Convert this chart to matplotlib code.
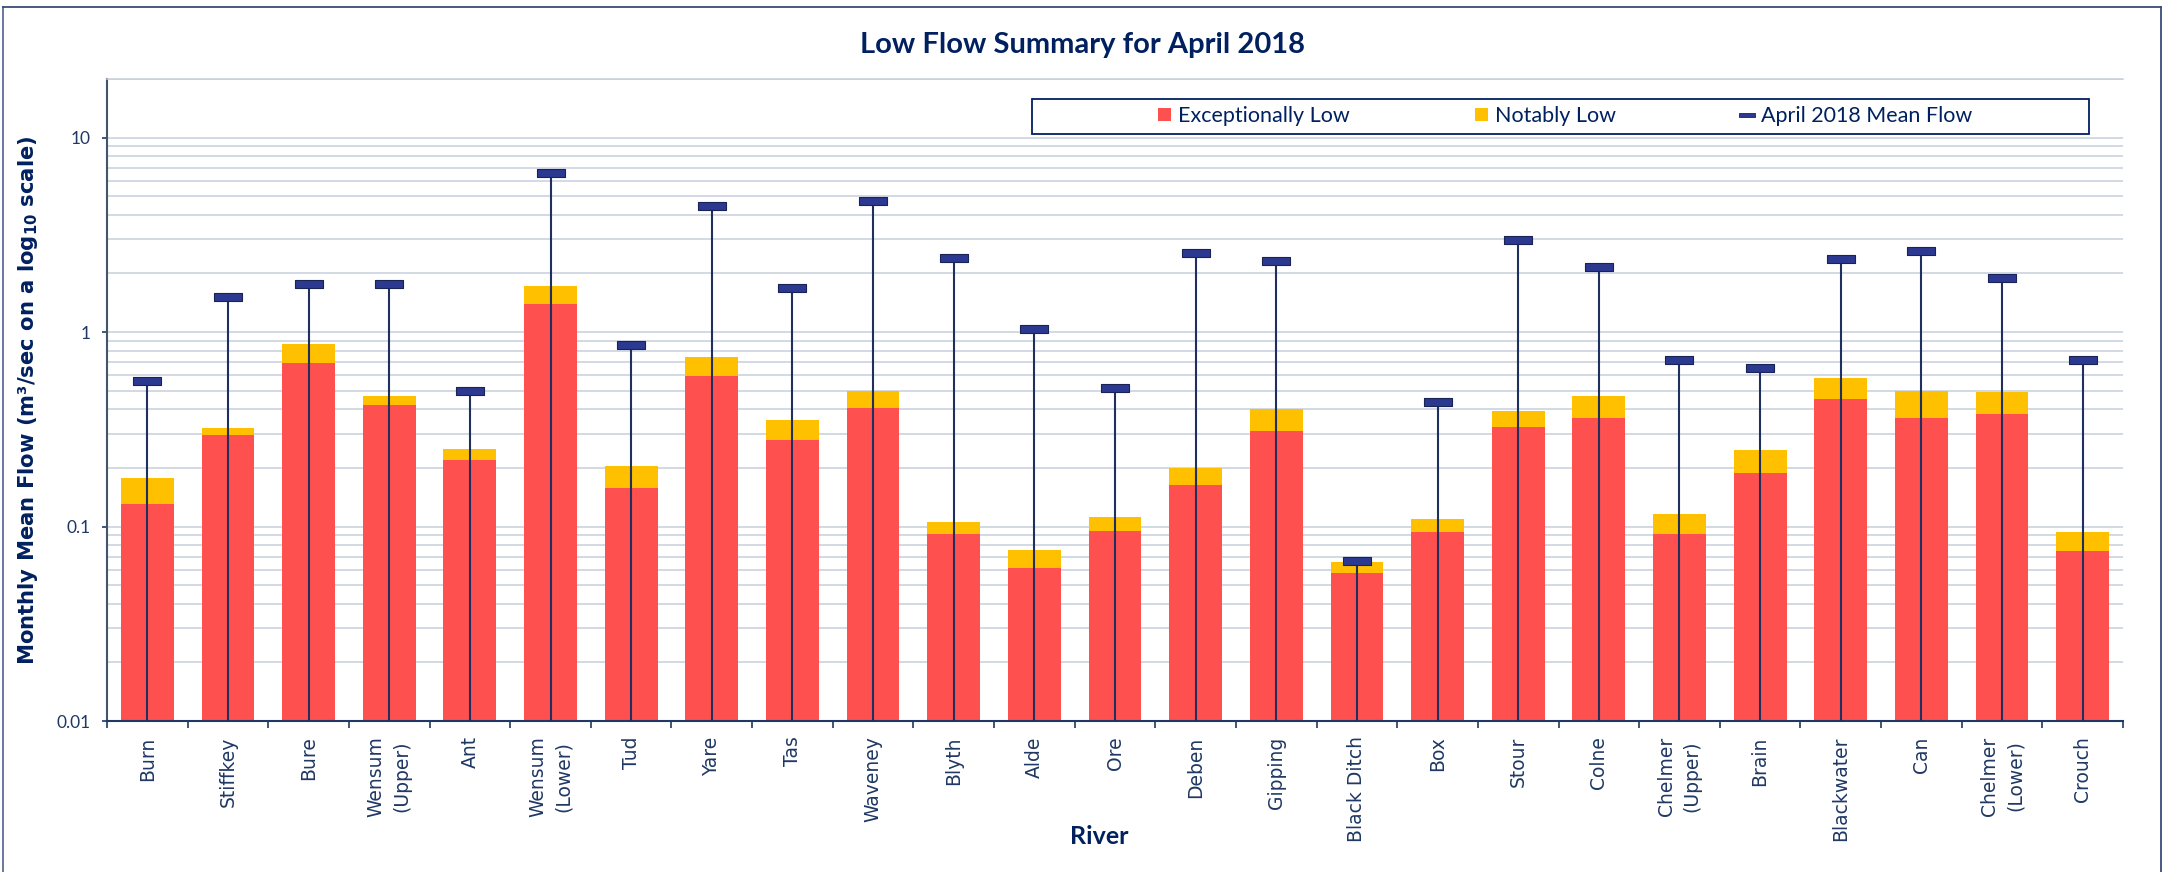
import numpy as np
import matplotlib
matplotlib.use('Agg')
import matplotlib.pyplot as plt
from matplotlib.path import Path
from matplotlib.lines import Line2D
from matplotlib.patches import Patch, Rectangle
from matplotlib.ticker import LogLocator, NullFormatter

rivers = ['Burn', 'Stiffkey', 'Bure', 'Wensum\n(Upper)', 'Ant', 'Wensum\n(Lower)', 'Tud',
          'Yare', 'Tas', 'Waveney', 'Blyth', 'Alde', 'Ore', 'Deben', 'Gipping', 'Black Ditch',
          'Box', 'Stour', 'Colne', 'Chelmer\n(Upper)', 'Brain', 'Blackwater', 'Can',
          'Chelmer\n(Lower)', 'Crouch']
exceptionally_low = [0.130, 0.295, 0.690, 0.420, 0.221, 1.40, 0.157, 0.595, 0.280, 0.405,
                     0.092, 0.061, 0.095, 0.163, 0.308, 0.058, 0.0935, 0.324, 0.360, 0.091,
                     0.188, 0.450, 0.362, 0.379, 0.0745]
notably_low = [0.177, 0.321, 0.863, 0.470, 0.250, 1.73, 0.205, 0.745, 0.351, 0.500,
               0.106, 0.076, 0.112, 0.200, 0.403, 0.066, 0.109, 0.393, 0.471, 0.1165,
               0.248, 0.580, 0.496, 0.494, 0.0936]
mean_flow = [0.562, 1.52, 1.77, 1.76, 0.497, 6.60, 0.86, 4.47, 1.69, 4.70,
             2.39, 1.035, 0.516, 2.55, 2.31, 0.0665, 0.438, 2.97, 2.15, 0.722,
             0.653, 2.37, 2.61, 1.90, 0.719]
y_ticks = [0.01, 0.1, 1, 10]
y_tick_labels = ['0.01', '0.1', '1', '10']

RED = '#FF5050'
YELLOW = '#FFC000'
NAVY = '#002060'
TICK_NAVY = '#1F3864'
GRID = '#C8CFDB'

W, H = 2176, 872
fig = plt.figure(figsize=(W / 100, H / 100), dpi=100)
ax = fig.add_axes([107 / W, 1 - 721 / H, (2123 - 107) / W, (721 - 79) / H])

x = np.arange(len(rivers))
exc = np.array(exceptionally_low)
not_ = np.array(notably_low)
ymin, ymax = 0.01, 20

ax.set_yscale('log')
ax.bar(x, exc - ymin, bottom=ymin, width=0.655, color=RED, zorder=2)
ax.bar(x, not_ - exc, bottom=exc, width=0.655, color=YELLOW, zorder=2)

# mean flow: line down to the axis with a dash marker
dash = Path([(-1, -0.26), (1, -0.26), (1, 0.26), (-1, 0.26), (-1, -0.26)],
            [Path.MOVETO, Path.LINETO, Path.LINETO, Path.LINETO, Path.CLOSEPOLY])
ax.vlines(x, ymin, mean_flow, color='#1F2F5F', lw=1.5, zorder=3)
ax.plot(x, mean_flow, linestyle='none', marker=dash, markersize=19.5,
        markerfacecolor='#2B3990', markeredgecolor='#1A2356', markeredgewidth=0.8, zorder=4)

ax.set_xlim(-0.5, len(rivers) - 0.5)
ax.set_ylim(ymin, ymax)

ax.set_yticks(y_ticks, labels=y_tick_labels)
ax.yaxis.set_minor_locator(LogLocator(base=10, subs=np.arange(2, 10), numticks=30))
ax.yaxis.set_minor_formatter(NullFormatter())
ax.tick_params(axis='y', which='major', length=3.6, width=1.2, color=TICK_NAVY,
               labelcolor=TICK_NAVY, labelsize=12.5, pad=8)
ax.tick_params(axis='y', which='minor', length=0)
for lab in ax.get_yticklabels():
    lab.set_family('Lato')

ax.set_xticks(np.arange(len(rivers) + 1) - 0.5)
ax.set_xticks(x, labels=rivers, minor=True)
ax.tick_params(axis='x', which='major', length=5, width=1.2, color=TICK_NAVY, labelbottom=False)
ax.tick_params(axis='x', which='minor', length=0, pad=11, labelsize=13.5, labelcolor=TICK_NAVY)
for lab in ax.get_xticklabels(minor=True):
    lab.set_rotation(90)
    lab.set_va('top')
    lab.set_ha('center')
    lab.set_multialignment('center')
    lab.set_linespacing(1.45)
    lab.set_family('DejaVu Sans')

ax.grid(axis='y', which='both', color=GRID, lw=1.1, zorder=0)
ax.set_axisbelow(True)
ax.spines['right'].set_visible(False)
ax.spines['top'].set_color(GRID)
ax.spines['top'].set_linewidth(1.1)
ax.spines['left'].set_color('#44546A')
ax.spines['left'].set_linewidth(1.5)
ax.spines['bottom'].set_color(TICK_NAVY)
ax.spines['bottom'].set_linewidth(1.5)

fig.text(1082 / W, 1 - 45 / H, 'Low Flow Summary for April 2018', ha='center', va='center',
         family='Lato', fontweight='bold', fontsize=21, color=NAVY)
fig.text(1099 / W, 1 - 836 / H, 'River', ha='center', va='center',
         family='Lato', fontweight='bold', fontsize=18, color=NAVY)
fig.text(28 / W, 1 - 400 / H, 'Monthly Mean Flow (m³/sec on a log$_{\\mathbf{10}}$ scale)',
         rotation=90, ha='center', va='center', family='DejaVu Sans', fontweight='bold',
         fontsize=15.2, color=NAVY)

# legend box
fig.patches.append(Rectangle((1032 / W, 1 - 134 / H), (2089 - 1032) / W, 35 / H,
                             transform=fig.transFigure, fill=False, edgecolor=NAVY, lw=1.3))
handles = [Patch(facecolor=RED), Patch(facecolor=YELLOW),
           Line2D([], [], linestyle='none', marker=dash, markersize=11,
                  markerfacecolor='#2B3990', markeredgecolor='#1A2356', markeredgewidth=0.6)]
leg = fig.legend(handles, ['Exceptionally Low', 'Notably Low', 'April 2018 Mean Flow'],
                 loc='center', bbox_to_anchor=(1565 / W, 1 - 116.5 / H), ncol=3, frameon=False,
                 prop={'family': 'Lato', 'size': 15.5}, handlelength=0.6, handleheight=0.56,
                 handletextpad=0.33, columnspacing=5.8, borderpad=0)
for t in leg.get_texts():
    t.set_color(NAVY)

# outer chart border (bottom edge falls outside the picture)
fig.add_artist(Line2D([3 / W, 3 / W], [0, 1 - 7 / H], color='#5A6C96', lw=1.3))
fig.add_artist(Line2D([3 / W, 2161 / W], [1 - 7 / H, 1 - 7 / H], color='#3A4C7A', lw=1.3))
fig.add_artist(Line2D([2161 / W, 2161 / W], [1 - 7 / H, 0], color='#3A4C7A', lw=1.3))

fig.savefig('out.png', dpi=100)
